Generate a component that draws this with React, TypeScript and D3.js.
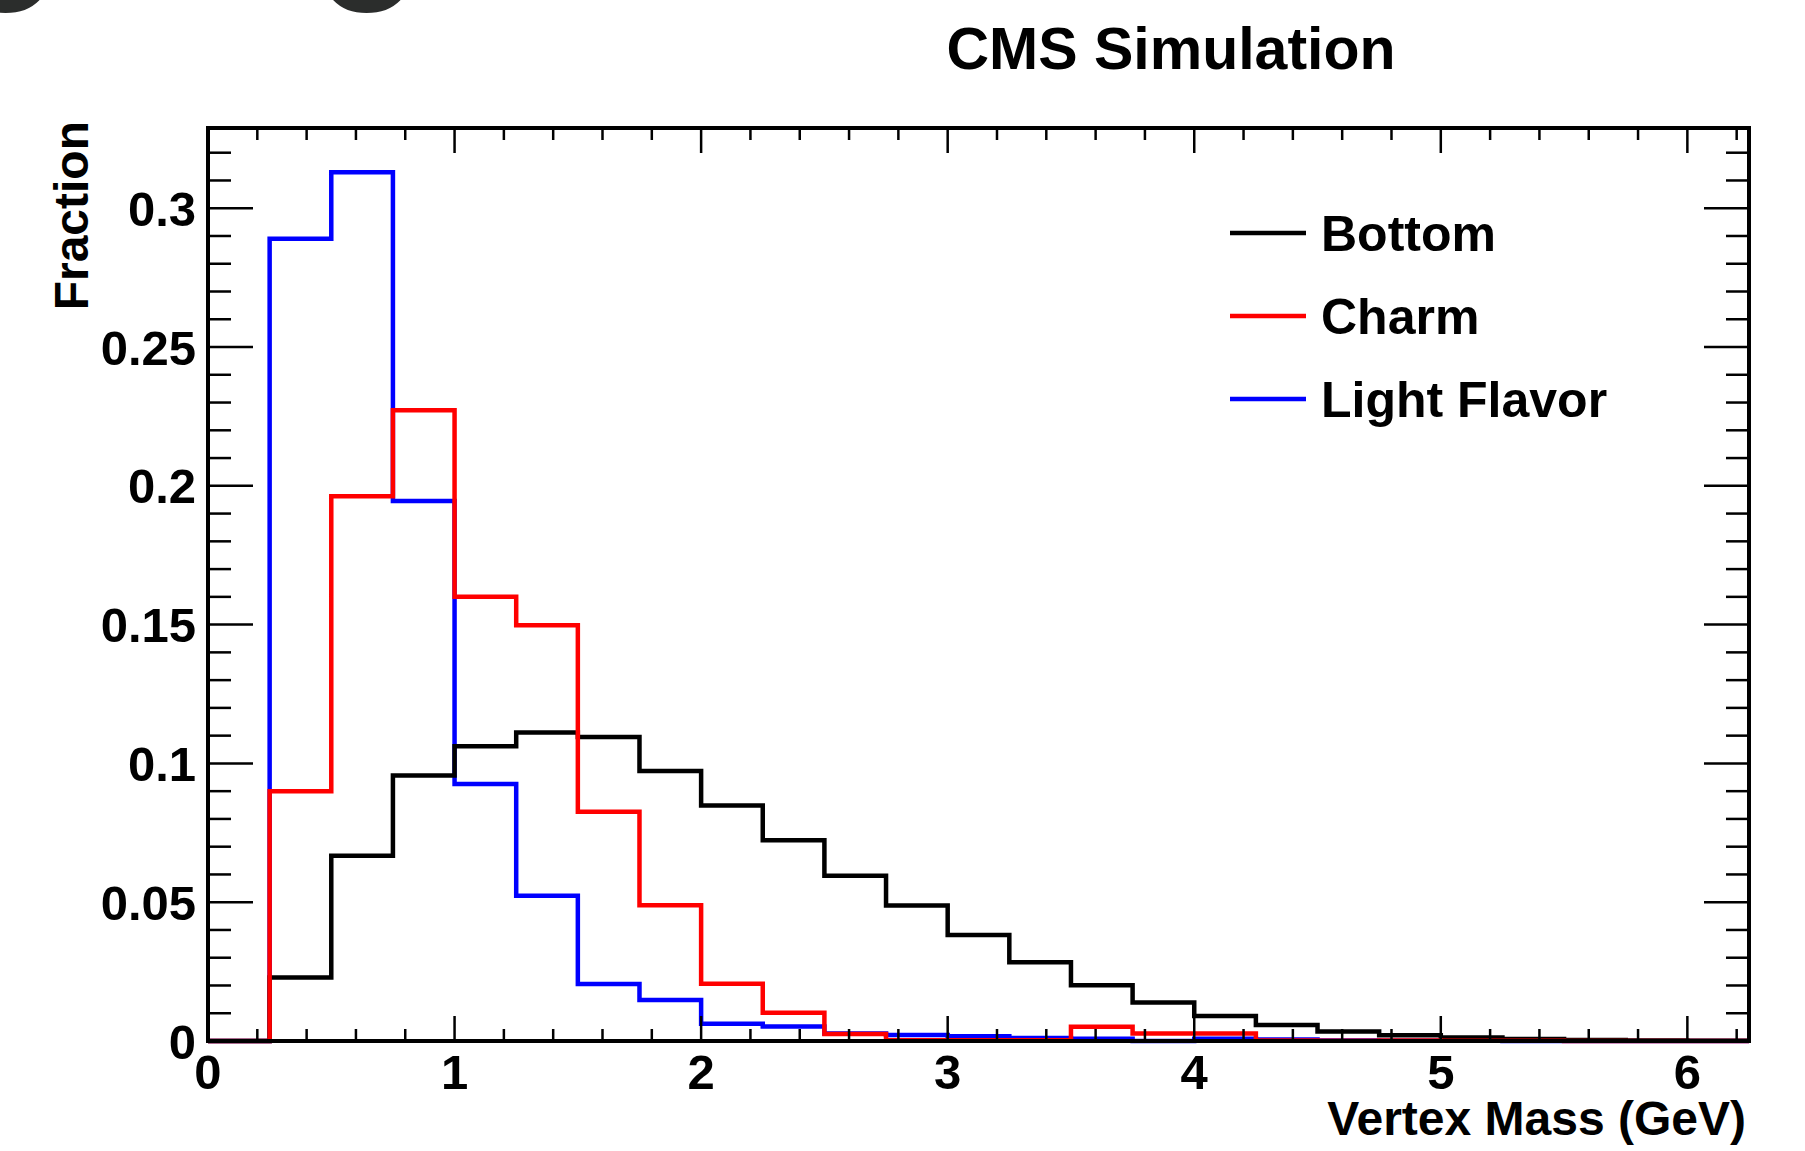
import React from "react";
import * as d3 from "d3";

// bin edges of the vertex mass histogram (GeV)
const binEdges = [
  0, 0.25, 0.5, 0.75, 1, 1.25, 1.5, 1.75, 2, 2.25, 2.5, 2.75, 3, 3.25, 3.5,
  3.75, 4, 4.25, 4.5, 4.75, 5, 5.25, 5.5, 5.75, 6, 6.25,
];

// fraction per bin
const bottom = [
  0, 0.0229, 0.0667, 0.0956, 0.1062, 0.1111, 0.1095, 0.0973, 0.0848, 0.0723,
  0.0595, 0.0488, 0.0382, 0.0284, 0.0201, 0.0139, 0.009, 0.0058, 0.0034,
  0.0021, 0.0013, 0.0007, 0.0004, 0.0002, 0.0001,
];
const charm = [
  0, 0.09, 0.1962, 0.2272, 0.16, 0.1498, 0.0826, 0.0489, 0.0206, 0.0102,
  0.0025, 0.0003, 0.0003, 0.0003, 0.0051, 0.0027, 0.0027, 0.0002, 0.0001,
  0.0002, 0.0001, 0.0001, 0, 0, 0,
];
const light = [
  0, 0.289, 0.313, 0.1945, 0.0926, 0.0523, 0.0205, 0.0148, 0.0062, 0.0052,
  0.0027, 0.0022, 0.0017, 0.0011, 0.0008, 0, 0.0008, 0.0005, 0.0002, 0.0001,
  0.0001, 0, 0, 0, 0,
];

const seriesNames = ["Bottom", "Charm", "Light Flavor"];
const seriesColors = ["#000000", "#ff0000", "#0000ff"];

const xMajorTicks = [0, 1, 2, 3, 4, 5, 6];
const yMajorTicks = [0, 0.05, 0.1, 0.15, 0.2, 0.25, 0.3];
const yTickLabels = ["0", "0.05", "0.1", "0.15", "0.2", "0.25", "0.3"];

const FONT = "'Liberation Sans', Arial, Helvetica, sans-serif";

export default function App() {
  const width = 1805;
  const height = 1151;
  const left = 208, right = 1749, top = 128, bot = 1041;

  const x = d3.scaleLinear().domain([0, 6.25]).range([left, right]);
  const y = d3.scaleLinear().domain([0, 0.3289]).range([bot, top]);

  const xMinor = d3.range(0.2, 6.25, 0.2).filter(v => Math.abs(v - Math.round(v)) > 1e-6);
  const yMinor = d3.range(0.01, 0.3289, 0.01).filter(v => Math.abs(v / 0.05 - Math.round(v / 0.05)) > 1e-6);

  const line = d3.line<[number, number]>()
    .x(d => x(d[0]))
    .y(d => y(d[1]))
    .curve(d3.curveStepAfter);

  const toPts = (vals: number[]): [number, number][] =>
    vals.map((v, i) => [binEdges[i], v] as [number, number])
      .concat([[binEdges[binEdges.length - 1], vals[vals.length - 1]]]);

  // drawing order as in the original: light, bottom, charm
  const drawOrder = [2, 0, 1];
  const allSeries = [bottom, charm, light];

  return (
    <svg width={width} height={height} style={{position: "absolute", left: 0, top: 0, background: "#fff"}}
         fontFamily={FONT} fontWeight="bold">
      {/* cropped glyphs from the page above */}
      <text x={6} y={11} fontSize={170} textAnchor="middle" fill="#2b2d2c">o</text>
      <text x={367} y={11} fontSize={170} textAnchor="middle" fill="#2b2d2c">o</text>

      <text x={1171} y={69} fontSize={59} textAnchor="middle" fill="#000">CMS Simulation</text>

      {drawOrder.map(i => (
        <path key={seriesNames[i]} d={line(toPts(allSeries[i])) || ""}
              fill="none" stroke={seriesColors[i]} strokeWidth={4.5} />
      ))}

      {/* frame */}
      <rect x={left} y={top} width={right - left} height={bot - top}
            fill="none" stroke="#000" strokeWidth={4} />

      {/* x ticks, bottom and top */}
      {xMajorTicks.map(t => (
        <g key={"xM" + t}>
          <line x1={x(t)} x2={x(t)} y1={bot} y2={bot - 25} stroke="#000" strokeWidth={2.5} />
          <line x1={x(t)} x2={x(t)} y1={top} y2={top + 25} stroke="#000" strokeWidth={2.5} />
          <text x={x(t)} y={1089} fontSize={49} textAnchor="middle">{t}</text>
        </g>
      ))}
      {xMinor.map(t => (
        <g key={"xm" + t}>
          <line x1={x(t)} x2={x(t)} y1={bot} y2={bot - 12} stroke="#000" strokeWidth={2.5} />
          <line x1={x(t)} x2={x(t)} y1={top} y2={top + 12} stroke="#000" strokeWidth={2.5} />
        </g>
      ))}

      {/* y ticks, left and right */}
      {yMajorTicks.map((t, i) => (
        <g key={"yM" + t}>
          <line x1={left} x2={left + 45} y1={y(t)} y2={y(t)} stroke="#000" strokeWidth={2.5} />
          <line x1={right} x2={right - 45} y1={y(t)} y2={y(t)} stroke="#000" strokeWidth={2.5} />
          <text x={196} y={y(t)} dy="0.36em" fontSize={49} textAnchor="end">{yTickLabels[i]}</text>
        </g>
      ))}
      {yMinor.map(t => (
        <g key={"ym" + t}>
          <line x1={left} x2={left + 23} y1={y(t)} y2={y(t)} stroke="#000" strokeWidth={2.5} />
          <line x1={right} x2={right - 23} y1={y(t)} y2={y(t)} stroke="#000" strokeWidth={2.5} />
        </g>
      ))}

      {/* axis titles */}
      <text x={1746} y={1135} fontSize={48} textAnchor="end">Vertex Mass (GeV)</text>
      <text transform="translate(88,121) rotate(-90)" fontSize={48} textAnchor="end">Fraction</text>

      {/* legend */}
      {seriesNames.map((name, i) => {
        const ly = 233 + i * 83;
        return (
          <g key={"leg" + name}>
            <line x1={1230} x2={1306} y1={ly} y2={ly} stroke={seriesColors[i]} strokeWidth={4.5} />
            <text x={1321} y={ly} dy="0.36em" fontSize={50}>{name}</text>
          </g>
        );
      })}
    </svg>
  );
}
